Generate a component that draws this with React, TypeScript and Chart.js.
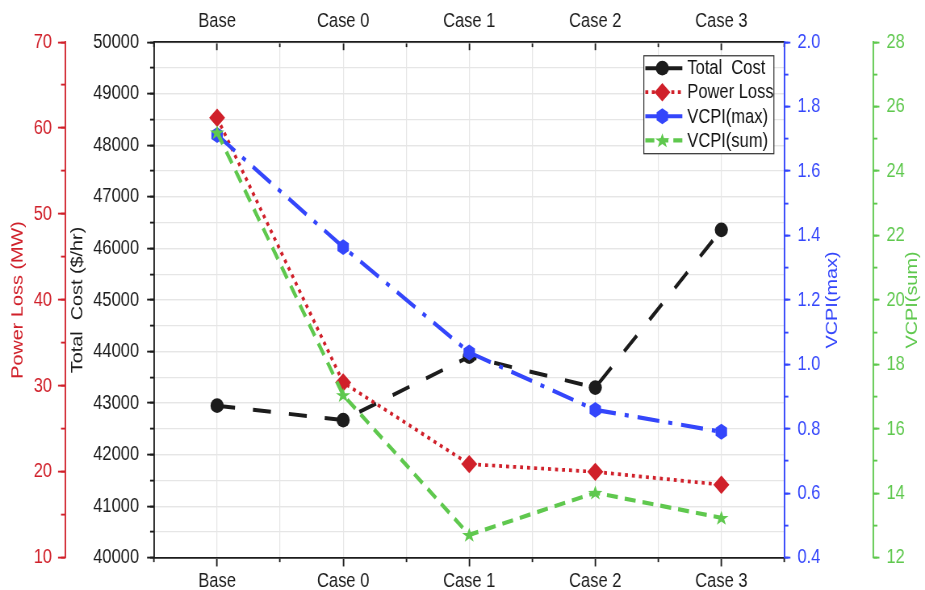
import React, { useEffect, useRef } from 'react';
import { Chart, registerables } from 'chart.js';

Chart.register(...registerables);

// ---------- data ----------
const categories = ['Base', 'Case 0', 'Case 1', 'Case 2', 'Case 3'];
const totalCost = [42950, 42670, 43900, 43300, 46360];
const powerLoss = [61.2, 30.4, 20.9, 20.0, 18.5];
const vcpiMax = [1.712, 1.364, 1.037, 0.859, 0.791];
const vcpiSum = [25.2, 17.05, 12.71, 14.02, 13.24];

// [min, max, major step, minor step]
const costRange = [40000, 50000, 1000, 500];
const lossRange = [10, 70, 10, 5];
const vcpiMaxRange = [0.4, 2.0, 0.2, 0.1];
const vcpiSumRange = [12, 28, 2, 1];

const seriesNames = ['Total  Cost', 'Power Loss', 'VCPI(max)', 'VCPI(sum)'];
const axisTitles = ['Total  Cost ($/hr)', 'Power Loss (MW)', 'VCPI(max)', 'VCPI(sum)'];
const markerKinds = ['circle', 'diamond', 'hexagon', 'star'];

// ---------- style ----------
// The reference is drawn slightly stretched vertically; the chart is laid out
// in a 925x476 space and shown at 925x590.
const STRETCH = 590 / 476;
const BLACK = '#1c1c1c';
const RED = '#d0202a';
const BLUE = '#3446fb';
const GREEN = '#5fc84e';
const GRID = '#e6e6e6';
const FONT = "'Liberation Sans', Arial, sans-serif";
const FS = 16.5;
const tickFont = { family: FONT, size: FS };
const titleFont = { family: FONT, size: 16 };
const legendDash = [[], [3, 3.5], [], [9, 5]];

function drawMarker(ctx: CanvasRenderingContext2D, kind: string, x: number, y: number, color: string) {
  ctx.save();
  ctx.fillStyle = color;
  ctx.setLineDash([]);
  ctx.beginPath();
  if (kind === 'circle') {
    ctx.ellipse(x, y, 6.6, 5.9, 0, 0, Math.PI * 2);
  } else if (kind === 'diamond') {
    ctx.moveTo(x, y - 7.4);
    ctx.lineTo(x + 8, y);
    ctx.lineTo(x, y + 7.4);
    ctx.lineTo(x - 8, y);
    ctx.closePath();
  } else if (kind === 'hexagon') {
    for (let i = 0; i < 6; i++) {
      const a = -Math.PI / 2 + (i * Math.PI) / 3;
      const px = x + 6.6 * Math.cos(a);
      const py = y + 6.4 * Math.sin(a);
      if (i === 0) ctx.moveTo(px, py);
      else ctx.lineTo(px, py);
    }
    ctx.closePath();
  } else {
    for (let i = 0; i < 10; i++) {
      const a = -Math.PI / 2 + (i * Math.PI) / 5;
      const r = i % 2 ? 3 : 7.6;
      const px = x + r * Math.cos(a);
      const py = y + 0.5 + r * 0.82 * Math.sin(a);
      if (i === 0) ctx.moveTo(px, py);
      else ctx.lineTo(px, py);
    }
    ctx.closePath();
  }
  ctx.fill();
  ctx.restore();
}

function minorAxis(position: string, weight: number, range: number[], color: string, len: number, onArea: boolean) {
  return {
    type: 'linear',
    position,
    weight,
    min: range[0],
    max: range[1],
    ticks: { display: false, stepSize: range[3], maxTicksLimit: 200 },
    grid: { color: GRID, drawOnChartArea: onArea, tickLength: len, tickColor: color, tickWidth: 1.5 },
    border: { display: false },
    afterFit: (s: any) => {
      s.width = 0;
    },
  };
}

const overlay = {
  id: 'overlay',
  afterDatasetDraw(chart: any, args: any) {
    const ctx = chart.ctx;
    const i = args.index;
    const ds = chart.data.datasets[i];
    args.meta.data.forEach((el: any) => {
      if (!el.skip) drawMarker(ctx, markerKinds[i], el.x, el.y, ds.borderColor);
    });
  },
  afterDraw(chart: any) {
    const ctx = chart.ctx;
    const ca = chart.chartArea;
    const cy = (ca.top + ca.bottom) / 2;
    ctx.save();
    ctx.font = `16px ${FONT}`;
    ctx.textAlign = 'center';
    ctx.textBaseline = 'middle';
    const rt: any[] = [
      [chart.scales.yMax, 48, BLUE, axisTitles[2]],
      [chart.scales.ySum, 39, GREEN, axisTitles[3]],
    ];
    rt.forEach(([s, off, col, txt]) => {
      ctx.save();
      ctx.translate(s.left + off, cy);
      ctx.rotate(-Math.PI / 2);
      ctx.fillStyle = col;
      ctx.fillText(txt, 0, 0);
      ctx.restore();
    });
    // legend box
    const bx = ca.right - 141;
    const by = ca.top + 10.5;
    const bw = 130;
    const bh = 79;
    ctx.fillStyle = '#ffffff';
    ctx.fillRect(bx, by, bw, bh);
    ctx.strokeStyle = '#333333';
    ctx.lineWidth = 1;
    ctx.strokeRect(bx + 0.5, by + 0.5, bw, bh);
    chart.data.datasets.forEach((ds: any, i: number) => {
      const y = by + 10.5 + i * 19.4;
      ctx.save();
      ctx.strokeStyle = ds.borderColor;
      ctx.lineWidth = ds.borderWidth;
      ctx.setLineDash(legendDash[i]);
      ctx.beginPath();
      ctx.moveTo(bx + 2, y);
      ctx.lineTo(bx + 39, y);
      ctx.stroke();
      ctx.restore();
      drawMarker(ctx, markerKinds[i], bx + 19, y, ds.borderColor);
      ctx.fillStyle = '#111111';
      ctx.font = `${FS}px ${FONT}`;
      ctx.textAlign = 'left';
      ctx.textBaseline = 'middle';
      ctx.fillText(ds.label, bx + 44, y + 0.5);
    });
    ctx.restore();
  },
};

export default function App() {
  const ref = useRef<HTMLCanvasElement | null>(null);

  useEffect(() => {
    if (!ref.current) return;
    const plain = (v: any) => String(v);

    const chart = new Chart(ref.current, {
      type: 'line',
      data: {
        labels: categories,
        datasets: [
          {
            label: seriesNames[0],
            data: totalCost,
            yAxisID: 'yCost',
            xAxisID: 'x',
            borderColor: BLACK,
            backgroundColor: BLACK,
            borderWidth: 3.2,
            borderDash: [18, 18],
            pointRadius: 0,
            tension: 0,
            fill: false,
            order: 4,
          },
          {
            label: seriesNames[1],
            data: powerLoss,
            yAxisID: 'yPL',
            xAxisID: 'x',
            borderColor: RED,
            backgroundColor: RED,
            borderWidth: 3,
            borderDash: [3, 4],
            pointRadius: 0,
            tension: 0,
            fill: false,
            order: 3,
          },
          {
            label: seriesNames[2],
            data: vcpiMax,
            yAxisID: 'yMax',
            xAxisID: 'x',
            borderColor: BLUE,
            backgroundColor: BLUE,
            borderWidth: 3.4,
            borderDash: [22, 9, 4, 9],
            pointRadius: 0,
            tension: 0,
            fill: false,
            order: 2,
          },
          {
            label: seriesNames[3],
            data: vcpiSum,
            yAxisID: 'ySum',
            xAxisID: 'x',
            borderColor: GREEN,
            backgroundColor: GREEN,
            borderWidth: 3.4,
            borderDash: [11, 7],
            pointRadius: 0,
            tension: 0,
            fill: false,
            order: 1,
          },
        ],
      },
      options: {
        responsive: false,
        devicePixelRatio: STRETCH,
        animation: false,
        events: [],
        layout: { padding: 0 },
        plugins: { legend: { display: false }, tooltip: { enabled: false } },
        scales: {
          x: {
            type: 'category',
            position: 'bottom',
            weight: 1,
            offset: true,
            grid: { offset: false, color: GRID, tickLength: 7, tickColor: BLACK, tickWidth: 1.5 },
            border: { color: BLACK, width: 1.5 },
            ticks: { font: tickFont, color: BLACK, padding: 1.8, maxRotation: 0, autoSkip: false },
            afterFit: (s: any) => {
              s.height = 26;
            },
          },
          xm: {
            type: 'category',
            position: 'bottom',
            weight: 0,
            offset: true,
            grid: { offset: true, color: GRID, tickLength: 3.5, tickColor: BLACK, tickWidth: 1.5 },
            border: { display: false },
            ticks: { display: false },
            afterFit: (s: any) => {
              s.height = 0;
            },
          },
          x2: {
            type: 'category',
            position: 'top',
            weight: 1,
            offset: true,
            grid: { offset: false, drawOnChartArea: false, tickLength: -6.5, tickColor: BLACK, tickWidth: 1.5 },
            border: { color: BLACK, width: 1.5 },
            ticks: { font: tickFont, color: BLACK, padding: 13.3, maxRotation: 0, autoSkip: false },
            afterFit: (s: any) => {
              s.height = 34;
            },
          },
          xm2: {
            type: 'category',
            position: 'top',
            weight: 0,
            offset: true,
            grid: { offset: true, drawOnChartArea: false, tickLength: -4, tickColor: BLACK, tickWidth: 1.5 },
            border: { display: false },
            ticks: { display: false },
            afterFit: (s: any) => {
              s.height = 0;
            },
          },
          yCostM: minorAxis('left', 0, costRange, BLACK, 4, true) as any,
          yCost: {
            type: 'linear',
            position: 'left',
            weight: 1,
            min: costRange[0],
            max: costRange[1],
            ticks: { stepSize: costRange[2], font: tickFont, color: BLACK, padding: 8, callback: plain },
            grid: { color: GRID, tickLength: 7, tickColor: BLACK, tickWidth: 1.5 },
            border: { color: BLACK, width: 1.5 },
            title: { display: true, text: axisTitles[0], font: titleFont, color: BLACK, padding: { top: 3.4, bottom: 0 } },
            afterFit: (s: any) => {
              s.width = 89;
            },
          },
          yPLM: minorAxis('left', 2, lossRange, RED, 4, false) as any,
          yPL: {
            type: 'linear',
            position: 'left',
            weight: 3,
            min: lossRange[0],
            max: lossRange[1],
            ticks: { stepSize: lossRange[2], font: tickFont, color: RED, padding: 6, callback: plain },
            grid: { drawOnChartArea: false, tickLength: 7, tickColor: RED, tickWidth: 1.5 },
            border: { color: RED, width: 1.5 },
            title: { display: true, text: axisTitles[1], font: titleFont, color: RED, padding: { top: 8.4, bottom: 0 } },
            afterFit: (s: any) => {
              s.width = 65;
            },
          },
          yMaxM: minorAxis('right', 0, vcpiMaxRange, BLUE, 4, false) as any,
          yMax: {
            type: 'linear',
            position: 'right',
            weight: 1,
            min: vcpiMaxRange[0],
            max: vcpiMaxRange[1],
            ticks: {
              stepSize: vcpiMaxRange[2],
              font: tickFont,
              color: BLUE,
              padding: 7,
              callback: (v: any) => Number(v).toFixed(1),
            },
            grid: { drawOnChartArea: false, tickLength: 6, tickColor: BLUE, tickWidth: 1.5 },
            border: { color: BLUE, width: 1.5 },
            afterFit: (s: any) => {
              s.width = 89;
            },
          },
          ySumM: minorAxis('right', 2, vcpiSumRange, GREEN, 4, false) as any,
          ySum: {
            type: 'linear',
            position: 'right',
            weight: 3,
            min: vcpiSumRange[0],
            max: vcpiSumRange[1],
            ticks: { stepSize: vcpiSumRange[2], font: tickFont, color: GREEN, padding: 7, callback: plain },
            grid: { drawOnChartArea: false, tickLength: 6, tickColor: GREEN, tickWidth: 1.5 },
            border: { color: GREEN, width: 1.5 },
            afterFit: (s: any) => {
              s.width = 52;
            },
          },
        } as any,
      },
      plugins: [overlay as any],
    });
    return () => chart.destroy();
  }, []);

  return (
    <div style={{ position: 'fixed', left: 0, top: 0, width: 925, height: 590, background: '#ffffff' }}>
      <canvas ref={ref} width={925} height={476} style={{ display: 'block', width: '925px', height: '590px' }} />
    </div>
  );
}
